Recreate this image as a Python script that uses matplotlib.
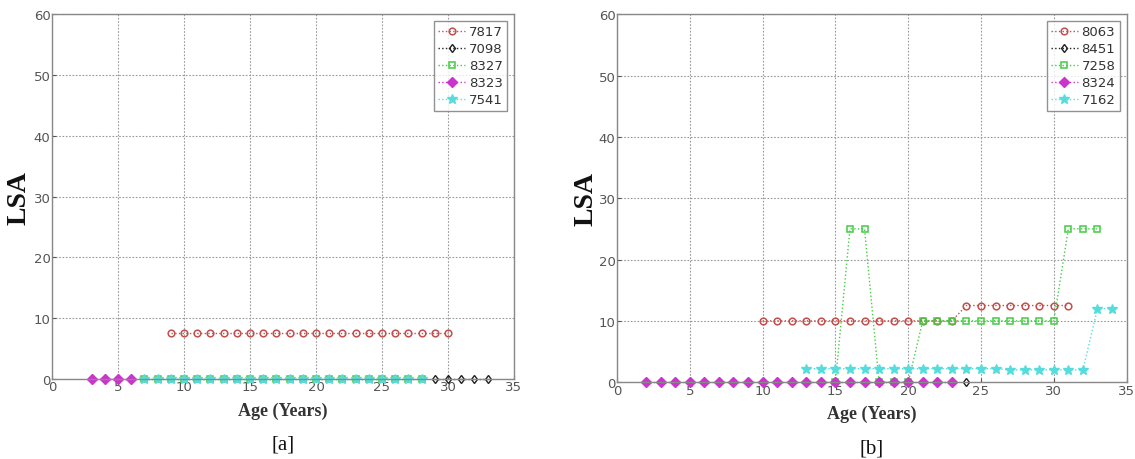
import matplotlib
matplotlib.use("Agg")
import matplotlib.pyplot as plt
import numpy as np

# ---- data, panel [a] ----
a_labels = ["7817", "7098", "8327", "8323", "7541"]
a_x_7817 = list(range(9, 31))
a_y_7817 = [7.5] * 22
a_x_7098 = [29, 30, 31, 32, 33]
a_y_7098 = [0, 0, 0, 0, 0]
a_x_8327 = list(range(7, 29))
a_y_8327 = [0] * 22
a_x_8323 = [3, 4, 5, 6]
a_y_8323 = [0, 0, 0, 0]
a_x_7541 = list(range(7, 29))
a_y_7541 = [0] * 22

# ---- data, panel [b] ----
b_labels = ["8063", "8451", "7258", "8324", "7162"]
b_x_8063 = list(range(10, 32))
b_y_8063 = [10] * 14 + [12.5] * 8
b_x_8451 = [24]
b_y_8451 = [0]
b_x_7258 = list(range(15, 34))
b_y_7258 = [0, 25, 25, 0, 0, 0, 10, 10, 10, 10, 10, 10, 10, 10, 10, 10, 25, 25, 25]
b_x_8324 = list(range(2, 24))
b_y_8324 = [0] * 22
b_x_7162 = list(range(13, 35))
b_y_7162 = [2.2] * 14 + [2.0] * 6 + [12, 12]

x_ticks = [0, 5, 10, 15, 20, 25, 30, 35]
y_ticks = [0, 10, 20, 30, 40, 50, 60]

RED = "#c0504d"
BLACK = "#202020"
GREEN = "#44cc44"
MAGENTA = "#cc33cc"
CYAN = "#55dddd"

styles = [
    dict(color=RED, marker="o", mfc="none", ms=4.8, mew=1.1),
    dict(color=BLACK, marker="d", mfc="none", ms=4.5, mew=1.0),
    dict(color=GREEN, marker="s", mfc="none", ms=4.2, mew=1.1),
    dict(color=MAGENTA, marker="D", mfc=MAGENTA, ms=5.2, mew=1.0),
    dict(color=CYAN, marker="*", mfc=CYAN, ms=7.5, mew=1.0),
]

fig = plt.figure(figsize=(11.35, 4.6), dpi=100)
axA = fig.add_axes([0.0458, 0.174, 0.407, 0.793])
axB = fig.add_axes([0.5436, 0.167, 0.449, 0.800])

serif = ["Liberation Serif", "DejaVu Serif"]

def setup(ax, series, labels, tag, label_x):
    for (xs, ys), st, lab in zip(series, styles, labels):
        ax.plot(xs, ys, linestyle=":", lw=1.0, label=lab, clip_on=False, **st)
    ax.set_xlim(0, 35)
    ax.set_ylim(0, 60)
    ax.set_xticks(x_ticks)
    ax.set_yticks(y_ticks)
    ax.grid(True, linestyle=(0, (1.5, 1.5)), color="#999999", lw=0.8)
    ax.set_axisbelow(True)
    for s in ax.spines.values():
        s.set_color("#888888")
        s.set_linewidth(1.0)
    ax.tick_params(direction="in", colors="#555555", labelsize=9.5, length=3, pad=1)
    for t in ax.get_xticklabels() + ax.get_yticklabels():
        t.set_color("#555555")
    ax.set_xlabel("Age (Years)", family=serif, fontweight="bold", fontsize=13, color="#333333", labelpad=6)
    ax.set_ylabel("LSA", family=serif, fontweight="bold", fontsize=20, color="#111111")
    ax.yaxis.set_label_coords(label_x, 0.5)
    ax.text(0.5, -0.178, tag, transform=ax.transAxes, ha="center", va="center", family=serif, fontsize=15, color="#111111")
    leg = ax.legend(loc="upper right", fontsize=9.5, frameon=True, fancybox=False,
                    borderpad=0.35, labelspacing=0.3, handlelength=2.0, handletextpad=0.3,
                    borderaxespad=0.5)
    leg.get_frame().set_edgecolor("#777777")
    leg.get_frame().set_linewidth(1.0)
    for t in leg.get_texts():
        t.set_color("#333333")

setup(axA, [(a_x_7817, a_y_7817), (a_x_7098, a_y_7098), (a_x_8327, a_y_8327),
            (a_x_8323, a_y_8323), (a_x_7541, a_y_7541)], a_labels, "[a]", -0.045)
setup(axB, [(b_x_8063, b_y_8063), (b_x_8451, b_y_8451), (b_x_7258, b_y_7258),
            (b_x_8324, b_y_8324), (b_x_7162, b_y_7162)], b_labels, "[b]", -0.036)

fig.savefig("out.png", dpi=100)
